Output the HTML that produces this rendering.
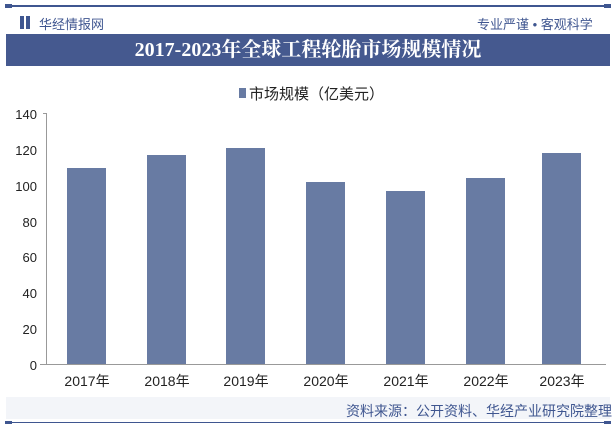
<!DOCTYPE html><html><head><meta charset="utf-8"><style>
body{margin:0;width:616px;height:434px;background:#fff;font-family:"Liberation Sans","Noto Sans CJK SC",sans-serif;position:relative;overflow:hidden}
.a{position:absolute}
</style></head><body>
<div class="a" style="left:6px;top:5px;width:604px;height:2px;background:#3f5690"></div>
<div class="a" style="left:5px;top:4px;width:7px;height:4px;background:#3f5690"></div>
<div class="a" style="left:604px;top:4px;width:7px;height:4px;background:#3f5690"></div>
<div class="a" style="left:20px;top:16px;width:4px;height:13px;background:#3f5690"></div>
<div class="a" style="left:26px;top:16px;width:4px;height:13px;background:#3f5690"></div>
<div class="a" style="left:39px;top:14px;font-size:13px;color:#3f5690">华经情报网</div>
<div class="a" style="left:477px;top:14px;font-size:13px;color:#3f5690;white-space:nowrap">专业严谨 • 客观科学</div>
<div class="a" style="left:6px;top:34px;width:604px;height:32px;background:#45598f;color:#fff;font:bold 20px 'Liberation Serif','Noto Serif CJK SC',serif;text-align:center;line-height:32px">2017-2023年全球工程轮胎市场规模情况</div>
<div class="a" style="left:239px;top:88px;width:7px;height:10px;background:#687ba3"></div>
<div class="a" style="left:249px;top:83px;font-size:15px;color:#222">市场规模（亿美元）</div>
<svg class="a" style="left:0;top:0" width="616" height="434">
<g font-size="13" fill="#222" text-anchor="end" font-family="Liberation Sans">
<text x="37" y="119">140</text><text x="37" y="155">120</text><text x="37" y="191">100</text><text x="37" y="227">80</text><text x="37" y="262">60</text><text x="37" y="298">40</text><text x="37" y="334">20</text><text x="37" y="370">0</text></g>
<g stroke="#999"><line x1="46.5" y1="113" x2="46.5" y2="364"/><line x1="43" y1="113.5" x2="46" y2="113.5"/><line x1="40" y1="364.5" x2="606" y2="364.5"/></g>
<g fill="#687ba3">
<rect x="67" y="168" width="39" height="196"/><rect x="147" y="155" width="39" height="209"/><rect x="226" y="148" width="39" height="216"/><rect x="306" y="182" width="39" height="182"/><rect x="386" y="191" width="39" height="173"/><rect x="466" y="178" width="39" height="186"/><rect x="542" y="153" width="39" height="211"/></g>
<g font-size="14" fill="#222" text-anchor="middle" font-family="Liberation Sans,Noto Sans CJK SC">
<text x="87" y="386">2017年</text><text x="167" y="386">2018年</text><text x="246" y="386">2019年</text><text x="326" y="386">2020年</text><text x="406" y="386">2021年</text><text x="486" y="386">2022年</text><text x="562" y="386">2023年</text></g>
</svg>
<div class="a" style="left:6px;top:397px;width:604px;height:22px;background:#f3f5f9"></div>
<div class="a" style="left:346px;top:401px;font-size:14px;color:#3f5690">资料来源：公开资料、华经产业研究院整理</div>
<div class="a" style="left:6px;top:422px;width:604px;height:1px;background:#3f5690"></div>
<div class="a" style="left:5px;top:421px;width:7px;height:3px;background:#3f5690"></div>
<div class="a" style="left:604px;top:421px;width:7px;height:3px;background:#3f5690"></div>
</body></html>
